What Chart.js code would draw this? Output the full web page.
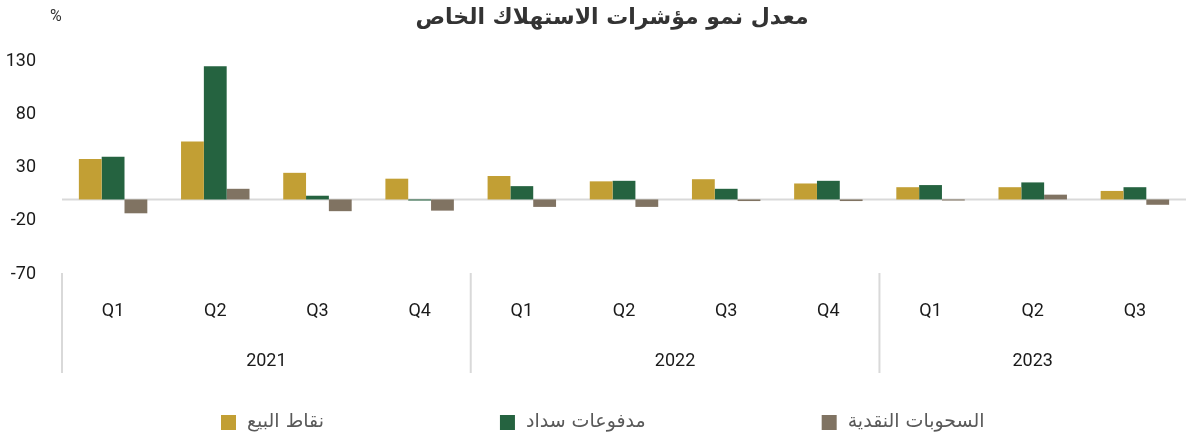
<!DOCTYPE html>
<html>
<head>
<meta charset="utf-8">
<script src="https://cdn.jsdelivr.net/npm/chart.js@4/dist/chart.umd.min.js"></script>
<style>
  html, body { margin: 0; padding: 0; background: #fff; }
  #wrap { width: 1186px; height: 436px; position: relative; }
</style>
</head>
<body>
<div id="wrap"><canvas id="chart" width="1186" height="436"></canvas></div>
<script>
// === data ===
const quarters = ["Q1", "Q2", "Q3", "Q4", "Q1", "Q2", "Q3", "Q4", "Q1", "Q2", "Q3"];
const years = ["2021", "2022", "2023"];
const yearSpans = [4, 4, 3];

const posSales = [38, 54.5, 25, 19.5, 22, 17, 19, 15, 11.5, 11.5, 8];
const sadadPayments = [40, 125, 3.5, -1, 12.5, 17.5, 10, 17.5, 13.5, 16, 11.5];
const cashWithdrawals = [-13, 10, -11, -10.5, -7, -7, -1.5, -1.5, -1, 4.5, -5];

const seriesNames = ["نقاط البيع", "مدفوعات سداد", "السحوبات النقدية"];
const yTicks = [-70, -20, 30, 80, 130];

const titleText = "معدل نمو مؤشرات الاستهلاك الخاص";
const unitText = "%";

const colors = ["#C29F34", "#256340", "#807362"];
const lineGrey = "#d9d9d9";
const arabicFont = "'DejaVu Sans', sans-serif";
const numFont = "Roboto, 'DejaVu Sans', sans-serif";

// === plugins ===
const decorPlugin = {
    id: "decor",
    beforeDatasetsDraw(chart) {
        const { ctx, chartArea, scales } = chart;
        const y0 = scales.y.getPixelForValue(0);
        ctx.save();
        ctx.strokeStyle = lineGrey;
        ctx.lineWidth = 2;
        ctx.beginPath();
        ctx.moveTo(chartArea.left, y0);
        ctx.lineTo(chartArea.right, y0);
        ctx.stroke();
        ctx.restore();
    },
    afterDraw(chart) {
        const { ctx, chartArea, scales } = chart;
        const x = scales.x;
        const step = x.getPixelForValue(1) - x.getPixelForValue(0);

        ctx.save();

        // title
        ctx.fillStyle = "#333333";
        ctx.font = "bold 22px " + arabicFont;
        ctx.textAlign = "center";
        ctx.textBaseline = "middle";
        ctx.fillText(titleText, 612, 18);

        // unit
        ctx.font = "16px " + numFont;
        ctx.textAlign = "left";
        ctx.fillText(unitText, 50, 17);

        // year groups + dividers
        ctx.strokeStyle = lineGrey;
        ctx.lineWidth = 2;
        ctx.font = "18px " + numFont;
        ctx.fillStyle = "#1a1a1a";
        ctx.textAlign = "center";
        let start = 0;
        years.forEach((yr, i) => {
            const first = start;
            const last = start + yearSpans[i] - 1;
            const left = x.getPixelForValue(first) - step / 2;
            ctx.beginPath();
            ctx.moveTo(left, chartArea.bottom - 1);
            ctx.lineTo(left, chartArea.bottom + 99);
            ctx.stroke();
            const cx = (x.getPixelForValue(first) + x.getPixelForValue(last)) / 2;
            ctx.fillText(yr, cx, 361);
            start += yearSpans[i];
        });

        // legend
        ctx.font = "19px " + arabicFont;
        ctx.textBaseline = "middle";
        ctx.textAlign = "left";
        let lx = 221;
        seriesNames.forEach((name, i) => {
            ctx.fillStyle = colors[i];
            ctx.fillRect(lx, 415, 15, 15);
            ctx.fillStyle = "#595959";
            ctx.fillText(name, lx + 26, 422);
            lx += 26 + ctx.measureText(name).width + 176;
        });

        ctx.restore();
    }
};

// === chart ===
const ctx = document.getElementById("chart");

new Chart(ctx, {
    type: "bar",
    data: {
        labels: quarters,
        datasets: [posSales, sadadPayments, cashWithdrawals].map((d, i) => ({
            label: seriesNames[i],
            data: d,
            backgroundColor: colors[i],
            borderWidth: 0,
            categoryPercentage: 0.67,
            barPercentage: 1
        }))
    },
    options: {
        responsive: false,
        devicePixelRatio: 1,
        animation: false,
        layout: { padding: { top: 61, right: 0, bottom: 0, left: 0 } },
        plugins: {
            legend: { display: false },
            title: { display: false },
            tooltip: { enabled: false }
        },
        scales: {
            x: {
                grid: { display: false, drawTicks: false },
                border: { display: false },
                ticks: {
                    padding: 27,
                    color: "#1a1a1a",
                    font: { family: numFont, size: 18 },
                    maxRotation: 0,
                    autoSkip: false
                },
                afterFit: (scale) => { scale.height = 162; }
            },
            y: {
                min: -70,
                max: 130,
                grid: { display: false, drawTicks: false },
                border: { display: false },
                afterBuildTicks: (scale) => {
                    scale.ticks = yTicks.map(v => ({ value: v }));
                },
                ticks: {
                    padding: 26,
                    color: "#1a1a1a",
                    font: { family: numFont, size: 18 }
                },
                afterFit: (scale) => { scale.width = 62; }
            }
        }
    },
    plugins: [decorPlugin]
});
</script>
</body>
</html>
